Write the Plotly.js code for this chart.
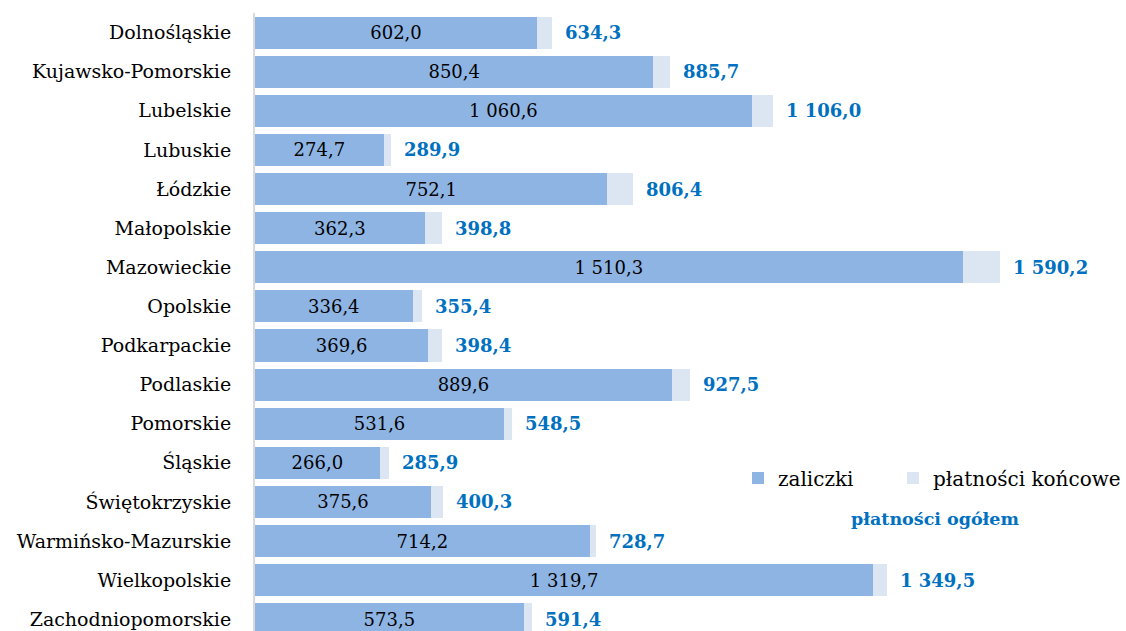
<!DOCTYPE html>
<html>
<head>
<meta charset="utf-8">
<script src="https://cdn.plot.ly/plotly-3.0.1.min.js"></script>
<style>html,body{margin:0;padding:0;background:#fff;}#chart{width:1126px;height:631px;}</style>
</head>
<body>
<div id="chart"></div>
<script>
const regions = ["Dolnośląskie","Kujawsko-Pomorskie","Lubelskie","Lubuskie","Łódzkie","Małopolskie","Mazowieckie","Opolskie","Podkarpackie","Podlaskie","Pomorskie","Śląskie","Świętokrzyskie","Warmińsko-Mazurskie","Wielkopolskie","Zachodniopomorskie"];
const zaliczki = [602.0,850.4,1060.6,274.7,752.1,362.3,1510.3,336.4,369.6,889.6,531.6,266.0,375.6,714.2,1319.7,573.5];
const ogolem = [634.3,885.7,1106.0,289.9,806.4,398.8,1590.2,355.4,398.4,927.5,548.5,285.9,400.3,728.7,1349.5,591.4];
const koncowe = ogolem.map((t,i)=>+(t - zaliczki[i]).toFixed(1));

function fmt(v){
  const s = v.toFixed(1).split('.');
  const intp = s[0].replace(/\B(?=(\d{3})+(?!\d))/g,' ');
  return intp + ',' + s[1];
}

const FONT = 'DejaVu Serif, serif';
// plot area geometry (pixels)
const PL = 255, PW = 871, PT = 13, PH = 618;
const px = x => (x - PL) / PW;
const py = y => 1 - (y - PT) / PH;

const traces = [
  {
    type:'bar', orientation:'h', name:'zaliczki', legend:'legend',
    y: regions, x: zaliczki,
    marker:{color:'#8EB4E3'},
    text: zaliczki.map(fmt), textposition:'inside', insidetextanchor:'middle',
    textfont:{family:FONT, size:18, color:'#000'},
    hoverinfo:'skip'
  },
  {
    type:'bar', orientation:'h', name:'płatności końcowe', legend:'legend2',
    y: regions, x: koncowe,
    marker:{color:'#DCE6F2'},
    hoverinfo:'skip'
  }
];

const annotations = regions.map((r,i)=>({
  x: ogolem[i], y: r, xref:'x', yref:'y',
  text: fmt(ogolem[i]), showarrow:false,
  xanchor:'left', xshift:11,
  font:{family:FONT, size:18, color:'#0070C0', weight:'bold'}
}));
annotations.push({
  x: px(935), y: py(519), xref:'paper', yref:'paper', xanchor:'center', yanchor:'middle',
  text:'<b>płatności ogółem</b>', showarrow:false,
  font:{family:FONT, size:17.5, color:'#0070C0'}
});

const legendBase = {orientation:'h', yanchor:'middle', y:py(478),
  font:{family:FONT, size:20, color:'#000'}, bgcolor:'rgba(0,0,0,0)'};

const layout = {
  width:1126, height:631,
  margin:{l:PL, r:0, t:PT, b:0},
  barmode:'stack', bargap:0.18,
  paper_bgcolor:'#fff', plot_bgcolor:'#fff',
  font:{family:FONT, size:18, color:'#000'},
  showlegend:true,
  legend: Object.assign({}, legendBase, {x:px(738), xanchor:'left'}),
  legend2: Object.assign({}, legendBase, {x:1, xanchor:'right'}),
  xaxis:{range:[0,1859], showgrid:false, zeroline:false, showticklabels:false, showline:false, fixedrange:true, automargin:false},
  yaxis:{type:'category', categoryorder:'array', categoryarray:regions, range:[15.3,-0.5],
         showgrid:false, zeroline:false, showline:true, linecolor:'#D9D9D9', linewidth:2,
         ticks:'outside', ticklen:18, tickcolor:'rgba(0,0,0,0)', automargin:false,
         tickfont:{family:FONT, size:19, color:'#000'}},
  annotations: annotations
};

Plotly.newPlot('chart', traces, layout, {displayModeBar:false, staticPlot:true});
</script>
</body>
</html>
